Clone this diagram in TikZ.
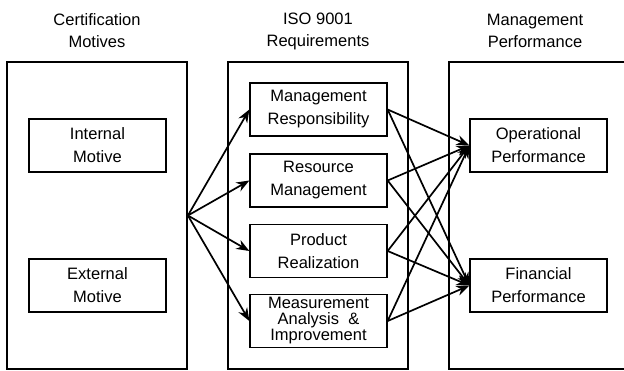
\documentclass[tikz,border=0pt]{standalone}
\usepackage{fontspec}
\setmainfont{Liberation Sans}
\usepackage{tikz}
\usetikzlibrary{positioning}
\usetikzlibrary{arrows.meta}

\begin{document}
\begin{tikzpicture}
           [x=1pt,y=-1pt,
            font=\fontsize{16.5}{23}\selectfont,
            group/.style = {draw,line width=1.8pt,minimum width=180pt,minimum height=307pt,inner sep=0pt},
            item/.style = {draw,line width=1.3pt,minimum width=137pt,minimum height=53pt,align=center,inner sep=1pt},
            title/.style = {align=center,font=\fontsize{16.5}{22}\selectfont},
            link/.style = {line width=1.7pt,-{Stealth[length=13pt,width=10pt]}}]
            \useasboundingbox (0,0) rectangle (624,370);
            \node[title] (T1) at (97,31) {Certification\\Motives};
            \node[title] (T2) at (318,31) {ISO 9001\\Requirements};
            \node[title] (T3) at (535,31) {Management\\Performance};

            \node[group] (L) at (97,215.5) {};
            \node[group] (M) at (318,215.5) {};
            \node[group] (R) at (539,215.5) {};

            \node[item] (IM) at (97.5,145.5) {Internal\\Motive};
            \node[item] (EM) at (97.5,285.5) {External\\Motive};
            \node[item] (MR) at (318.5,109.5) {Management\\Responsibility};
            \node[item] (RM) at (318.5,180.5) {Resource\\Management};
            \node[item] (PR) at (318.5,251) {Product\\Realization};
            \node[item,font=\fontsize{16.5}{16}\selectfont] (MI) at (318.5,321) {Measurement\\Analysis \ \&\\Improvement};
            \node[item] (OP) at (538.5,145.5) {Operational\\Performance};
            \node[item] (FP) at (538.5,285.5) {Financial\\Performance};

            \coordinate (fan) at (L.east);

            \path[link] (fan) edge (MR.west);
            \path[link] (fan) edge (RM.west);
            \path[link] (fan) edge (PR.west);
            \path[link] (fan) edge (MI.west);
            \path[link] (MR.east) edge (OP.west);
            \path[link] (MR.east) edge (FP.west);
            \path[link] (RM.east) edge (OP.west);
            \path[link] (RM.east) edge (FP.west);
            \path[link] (PR.east) edge (OP.west);
            \path[link] (PR.east) edge (FP.west);
            \path[link] (MI.east) edge (OP.west);
            \path[link] (MI.east) edge (FP.west);
        \end{tikzpicture}
\end{document}
